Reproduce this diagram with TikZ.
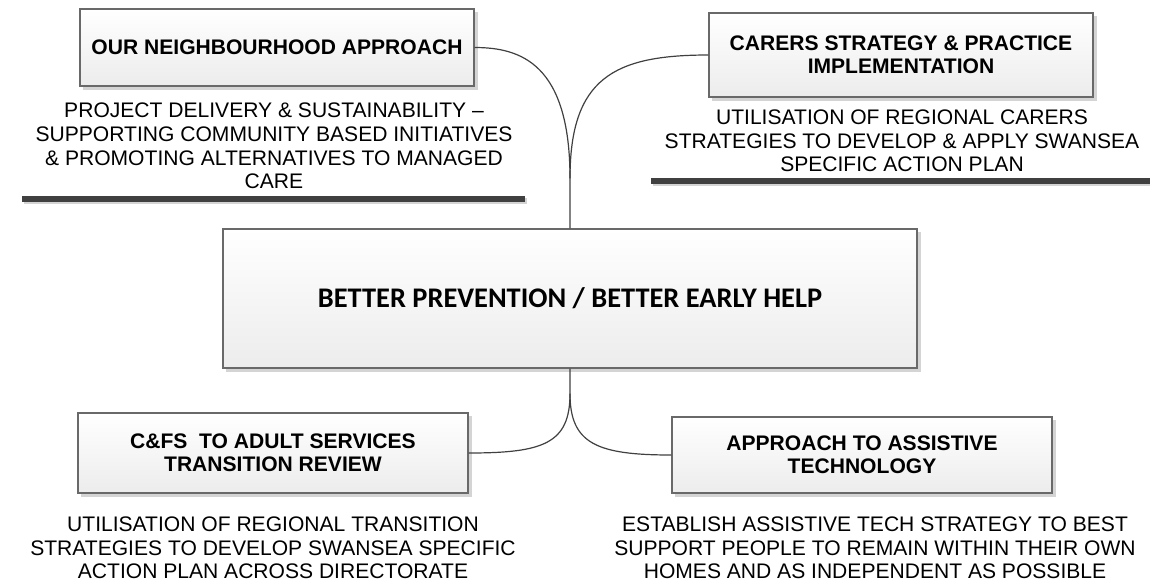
\documentclass[tikz,border=0pt]{standalone}
\usepackage{fontspec}
\setmainfont{Liberation Sans}
\newfontfamily\calibrifont{Carlito}
\usetikzlibrary{calc,backgrounds}

\definecolor{boxline}{RGB}{105,105,105}
\definecolor{boxshade}{RGB}{236,236,236}
\definecolor{shadowgrey}{RGB}{212,212,212}
\definecolor{linkgrey}{RGB}{64,64,64}

\tikzset{every picture/.style={line width=0.75pt}}
\tikzset{
  topicbox/.style={draw=boxline, line width=0.8pt, top color=white, bottom color=boxshade,
    inner sep=0pt, align=center, font=\fontsize{15.8}{17.6}\selectfont\bfseries},
  notetext/.style={inner sep=0pt, align=center, font=\fontsize{15.8}{17.8}\selectfont},
  link/.style={draw=linkgrey, line width=0.9pt},
  underbar/.style={draw=linkgrey, line width=4.2pt},
  barshadow/.style={draw=shadowgrey, line width=4.2pt},
  boxshadow/.style={fill=shadowgrey},
}

\begin{document}
\begin{tikzpicture}[x=0.75pt,y=0.75pt,yscale=-1,xscale=1]
\useasboundingbox (0,0) rectangle (1150,586);

% Box Nodes
\node [topicbox, minimum width=295.5pt, minimum height=57.75pt] (neigh) at (277,47.5) {OUR NEIGHBOURHOOD APPROACH};
\node [topicbox, minimum width=288pt, minimum height=63pt] (carers) at (901,55) {CARERS STRATEGY \& PRACTICE\\IMPLEMENTATION};
\node [topicbox, minimum width=520.5pt, minimum height=104.25pt, font=\calibrifont\fontsize{21.3}{25}\selectfont\bfseries] (core) at (570,298.5) {BETTER PREVENTION / BETTER EARLY HELP};
\node [topicbox, minimum width=292.5pt, minimum height=60pt] (trans) at (273,453) {C\&FS\ \ TO ADULT SERVICES\\TRANSITION REVIEW};
\node [topicbox, minimum width=285pt, minimum height=57pt] (assist) at (862,455) {APPROACH TO ASSISTIVE\\TECHNOLOGY};

% Box Shadows
\begin{scope}[on background layer]
\foreach \b in {neigh,carers,core,trans,assist}
  \fill [boxshadow] ($(\b.north west)+(4,4)$) rectangle ($(\b.south east)+(3,3)$);
\end{scope}

% Text Node
\node [notetext] (neighnote) at (274,146) {PROJECT DELIVERY \& SUSTAINABILITY –\\SUPPORTING COMMUNITY BASED INITIATIVES\\\& PROMOTING ALTERNATIVES TO MANAGED\\CARE};
% Text Node
\node [notetext] (carersnote) at (902,141) {UTILISATION OF REGIONAL CARERS\\STRATEGIES TO DEVELOP \& APPLY SWANSEA\\SPECIFIC ACTION PLAN};
% Text Node
\node [notetext] (transnote) at (273,548) {UTILISATION OF REGIONAL TRANSITION\\STRATEGIES TO DEVELOP SWANSEA SPECIFIC\\ACTION PLAN ACROSS DIRECTORATE};
% Text Node
\node [notetext] (assistnote) at (875,548) {ESTABLISH ASSISTIVE TECH STRATEGY TO BEST\\SUPPORT PEOPLE TO REMAIN WITHIN THEIR OWN\\HOMES AND AS INDEPENDENT AS POSSIBLE};

%Straight Lines
\draw [barshadow] (24,201) -- (527,201);
\draw [underbar] (22,199) -- (525,199);
%Straight Lines
\draw [barshadow] (653,183) -- (1150,183);
\draw [underbar] (651,181) -- (1150,181);

%Curve Lines
\coordinate (topjoin) at ($(core.north)+(0,-50)$);
\coordinate (botjoin) at ($(core.south)+(0,25)$);
\draw [link] (neigh.east) .. controls +(46,0) and +(0,-115) .. (topjoin) -- (core.north);
\draw [link] (carers.west) .. controls +(-95,0) and +(0,-100) .. (topjoin);
\draw [link] (core.south) -- (botjoin) .. controls +(0,50) and +(75,0) .. (trans.east);
\draw [link] (botjoin) .. controls +(0,50) and +(-75,0) .. (assist.west);

\end{tikzpicture}
\end{document}
